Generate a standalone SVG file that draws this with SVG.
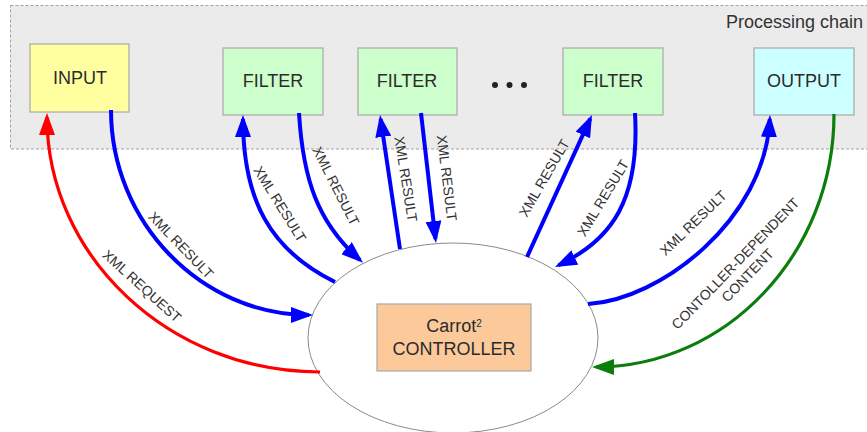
<svg xmlns="http://www.w3.org/2000/svg" width="867" height="432" viewBox="0 0 867 432">
<style>
.node{stroke:#a8a8a8;stroke-width:1.2}
.nt{font-family:"Liberation Sans",Arial,sans-serif;font-size:18px;fill:#2b2b2b;text-anchor:middle}
.lbl{font-family:"Liberation Sans",Arial,sans-serif;font-size:14px;fill:#333;text-anchor:middle}
.c{fill:none;stroke-linecap:butt}
.blue{stroke:#0000ff;stroke-width:4}
.red{stroke:#ff0000;stroke-width:3.2}
.green{stroke:#0a7d0a;stroke-width:3.2}
</style>
<defs>
<marker id="ab" markerUnits="userSpaceOnUse" markerWidth="22" markerHeight="16" refX="18" refY="8" orient="auto"><path d="M0,0 L22,8 L0,16 z" fill="#0000ff"/></marker>
<marker id="ar" markerUnits="userSpaceOnUse" markerWidth="22" markerHeight="16" refX="18" refY="8" orient="auto"><path d="M0,0 L22,8 L0,16 z" fill="#ff0000"/></marker>
<marker id="ag" markerUnits="userSpaceOnUse" markerWidth="22" markerHeight="16" refX="18" refY="8" orient="auto"><path d="M0,0 L22,8 L0,16 z" fill="#0a7d0a"/></marker>
</defs>
<rect width="867" height="432" fill="#ffffff"/>
<g id="processing-chain">
<rect x="10.5" y="5.5" width="870" height="143.5" fill="#ebebeb" stroke="#a0a0a0" stroke-width="1" stroke-dasharray="3,2"/>
<text x="726" y="28" font-family="Liberation Sans,Arial,sans-serif" font-size="18" fill="#333">Processing chain</text>
</g>
<g id="controller">
<ellipse cx="453" cy="338" rx="145" ry="95" fill="#ffffff" stroke="#8a8a8a" stroke-width="1"/>
<rect class="node" x="377" y="304" width="154" height="67" fill="#fcc99b"/>
<text class="nt" x="454" y="332">Carrot<tspan font-size="10" baseline-shift="super">2</tspan></text>
<text class="nt" x="454" y="355">CONTROLLER</text>
</g>
<g id="input"><rect class="node" x="30" y="44" width="99" height="68" fill="#ffffa0"/><text class="nt" x="80" y="84">INPUT</text></g>
<g id="filter1"><rect class="node" x="223" y="48" width="100" height="67" fill="#ccffcc"/><text class="nt" x="273" y="87">FILTER</text></g>
<g id="filter2"><rect class="node" x="358" y="48" width="99" height="67" fill="#ccffcc"/><text class="nt" x="407" y="87">FILTER</text></g>
<g id="ellipsis" fill="#222"><circle cx="495" cy="85" r="3"/><circle cx="509.5" cy="85" r="3"/><circle cx="524" cy="85" r="3"/></g>
<g id="filter3"><rect class="node" x="563" y="48" width="100" height="67" fill="#ccffcc"/><text class="nt" x="613" y="87">FILTER</text></g>
<g id="output"><rect class="node" x="754" y="48" width="100" height="67" fill="#ccffff"/><text class="nt" x="804" y="87">OUTPUT</text></g>
<g id="connectors">
<path class="c red" d="M320,372 C169,372 47,256 47,117" marker-end="url(#ar)"/>
<path class="c blue" d="M111,110 C111,223 202,315 309,315" marker-end="url(#ab)"/>
<path class="c blue" d="M335,282 C270,250 243,200 243,119" marker-end="url(#ab)"/>
<path class="c blue" d="M299,113 C303,180 318,223 360,260" marker-end="url(#ab)"/>
<path class="c blue" d="M400,249 L380.6,119" marker-end="url(#ab)"/>
<path class="c blue" d="M421,113 L435.5,239" marker-end="url(#ab)"/>
<path class="c blue" d="M527,257 L590.3,118.6" marker-end="url(#ab)"/>
<path class="c blue" d="M635,113 C640,200 612,240 558.6,265.2" marker-end="url(#ab)"/>
<path class="c blue" d="M588,304 C660,300 765,220 769.8,119" marker-end="url(#ab)"/>
<path class="c green" d="M834,114 C834,254 726,367 596,367" marker-end="url(#ag)"/>
</g>
<g id="labels">
<text class="lbl" transform="translate(142,286) rotate(42)" y="5">XML REQUEST</text>
<text class="lbl" transform="translate(181,245) rotate(46)" y="5">XML RESULT</text>
<text class="lbl" transform="translate(280,204) rotate(58)" y="5">XML RESULT</text>
<text class="lbl" transform="translate(336,186) rotate(63)" y="5">XML RESULT</text>
<text class="lbl" transform="translate(406,179) rotate(81)" y="5">XML RESULT</text>
<text class="lbl" transform="translate(447,178) rotate(83)" y="5">XML RESULT</text>
<text class="lbl" transform="translate(544,178) rotate(-60)" y="5">XML RESULT</text>
<text class="lbl" transform="translate(603,198) rotate(-59)" y="5">XML RESULT</text>
<text class="lbl" transform="translate(693,223) rotate(-44)" y="5">XML RESULT</text>
<text class="lbl" transform="translate(741,269) rotate(-46)"><tspan x="0" y="-3">CONTOLLER-DEPENDENT</tspan><tspan x="0" y="14">CONTENT</tspan></text>
</g>
</svg>
